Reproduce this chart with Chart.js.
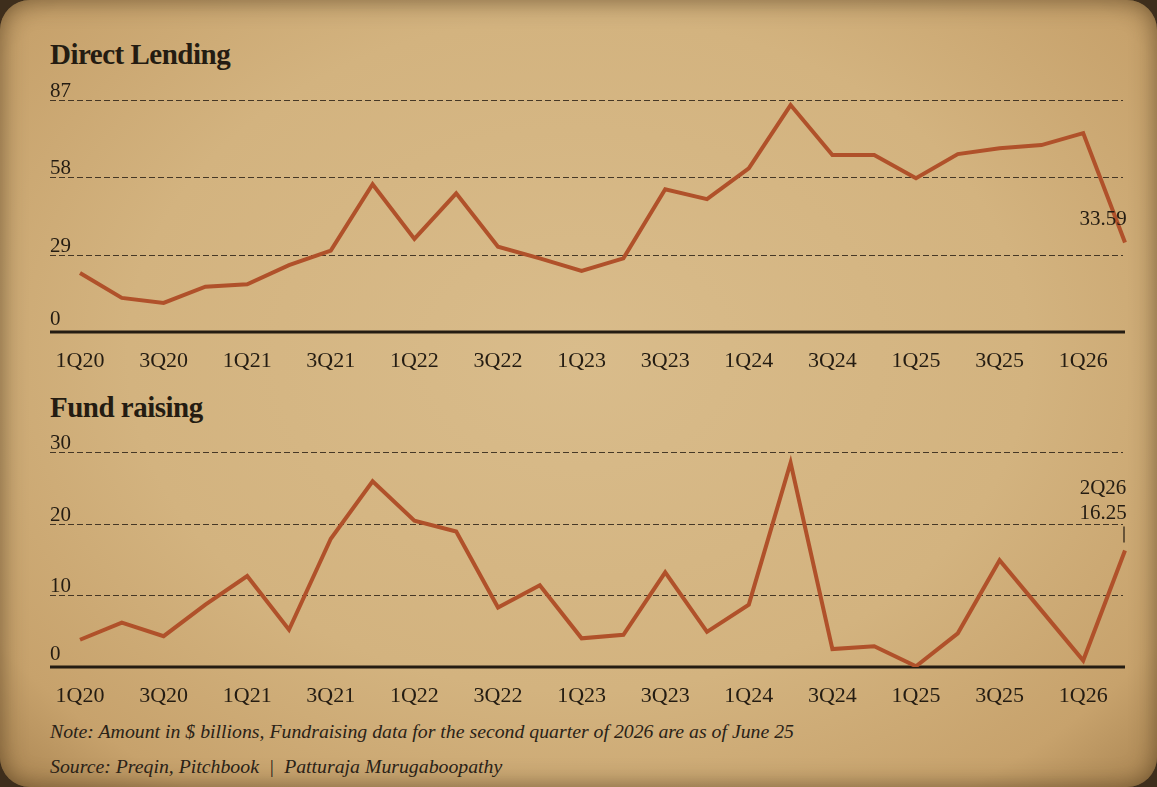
<!DOCTYPE html>
<html>
<head>
<meta charset="utf-8">
<script src="https://cdn.jsdelivr.net/npm/chart.js@4.4.1/dist/chart.umd.min.js"></script>
<style>
  html, body { margin: 0; padding: 0; }
  body { width: 1157px; height: 787px; background: #3e2e1c; overflow: hidden; position: relative; }
  .paper {
    position: absolute; left: 0; top: 0; width: 1157px; height: 787px;
    border-radius: 30px;
    background: radial-gradient(ellipse at 50% 45%, #d9bc8b 0%, #d3b37f 55%, #c7a26c 85%, #aa8552 100%);
    box-shadow: inset 0 0 24px rgba(60, 40, 15, 0.6);
  }
  .title { position: absolute; left: 50px; font-family: "Liberation Serif", serif; font-weight: bold; font-size: 29px; color: #241c12; letter-spacing: -0.5px; }
  .note { position: absolute; left: 50px; font-family: "Liberation Serif", serif; font-style: italic; font-size: 19.8px; color: #2a2217; }
  canvas { position: absolute; left: 0; }
</style>
</head>
<body>
<div class="paper"></div>
<div class="title" style="top:38px">Direct Lending</div>
<div class="title" style="top:391px">Fund raising</div>
<div style="position:absolute;left:0;top:0;width:1157px;height:380px"><canvas id="lending"></canvas></div>
<div style="position:absolute;left:0;top:380px;width:1157px;height:335px"><canvas id="fundraising"></canvas></div>
<div class="note" style="top:720px">Note: Amount in $ billions, Fundraising data for the second quarter of 2026 are as of June 25</div>
<div class="note" style="top:755px">Source: Preqin, Pitchbook &nbsp;|&nbsp; Patturaja Murugaboopathy</div>

<script>
// Quarterly data, 1Q20 to 2Q26
const quarters = ['1Q20','2Q20','3Q20','4Q20','1Q21','2Q21','3Q21','4Q21','1Q22','2Q22','3Q22','4Q22',
  '1Q23','2Q23','3Q23','4Q23','1Q24','2Q24','3Q24','4Q24','1Q25','2Q25','3Q25','4Q25','1Q26','2Q26'];

const lendingValues = [22.1, 12.8, 10.9, 17.0, 17.9, 25.1, 30.5, 55.4, 34.9, 52.0, 32.0, 27.6,
  22.9, 27.6, 53.5, 49.8, 61.4, 85.1, 66.4, 66.4, 57.7, 66.7, 68.9, 70.1, 74.6, 33.59];

const fundValues = [3.8, 6.2, 4.3, 8.7, 12.7, 5.2, 17.9, 25.9, 20.4, 18.9, 8.3, 11.4,
  4.0, 4.5, 13.2, 4.9, 8.7, 28.5, 2.5, 2.9, 0.1, 4.7, 14.9, 7.9, 0.9, 16.25];

const lendingTicks = [0, 29, 58, 87];
const fundTicks = [0, 10, 20, 30];

const INK = '#241c12';
const RUST = '#b0512a';
const SERIF = '"Liberation Serif", serif';

// draws the dashed grid, y labels, base line and the end label
const paperAxes = {
  id: 'paperAxes',
  beforeDatasetsDraw(chart, args, opts) {
    const ctx = chart.ctx;
    const y = chart.scales.y;
    const left = 50, right = 1123;
    ctx.save();
    opts.ticks.forEach(v => {
      const py = Math.round(y.getPixelForValue(v)) + 0.5;
      if (v !== 0) {
        ctx.strokeStyle = 'rgba(45,34,22,0.85)';
        ctx.lineWidth = 1;
        ctx.setLineDash([6, 3]);
        ctx.beginPath();
        ctx.moveTo(left, py);
        ctx.lineTo(right, py);
        ctx.stroke();
      }
      ctx.setLineDash([]);
      ctx.fillStyle = INK;
      ctx.font = '21px ' + SERIF;
      ctx.textAlign = 'left';
      ctx.textBaseline = 'alphabetic';
      ctx.fillText(String(v), left, py - (v === 0 ? 8 : 4));
    });
    const by = y.getPixelForValue(0);
    ctx.strokeStyle = INK;
    ctx.lineWidth = 3;
    ctx.beginPath();
    ctx.moveTo(left, by);
    ctx.lineTo(right + 2, by);
    ctx.stroke();
    ctx.restore();
  },
  afterDatasetsDraw(chart, args, opts) {
    const ctx = chart.ctx;
    const meta = chart.getDatasetMeta(0);
    const last = meta.data[meta.data.length - 1];
    const values = chart.data.datasets[0].data;
    const val = values[values.length - 1];
    ctx.save();
    ctx.fillStyle = INK;
    ctx.font = '21px ' + SERIF;
    ctx.textAlign = 'center';
    ctx.textBaseline = 'middle';
    if (opts.showQuarter) {
      ctx.fillText(quarters[quarters.length - 1], last.x - 22, last.y - 62);
      ctx.fillText(val.toFixed(2), last.x - 22, last.y - 37);
      ctx.strokeStyle = INK;
      ctx.lineWidth = 1.2;
      ctx.beginPath();
      ctx.moveTo(last.x - 1, last.y - 24);
      ctx.lineTo(last.x - 1, last.y - 8);
      ctx.stroke();
    } else {
      ctx.fillText(val.toFixed(2), last.x - 22, last.y - 23);
    }
    ctx.restore();
  }
};

function makeChart(id, values, ticks, maxY, padTop, showQuarter) {
  return new Chart(document.getElementById(id), {
    type: 'line',
    data: {
      labels: quarters,
      datasets: [{
        data: values,
        borderColor: RUST,
        borderWidth: 4,
        pointRadius: 0,
        tension: 0,
        fill: false
      }]
    },
    options: {
      responsive: true,
      maintainAspectRatio: false,
      animation: false,
      layout: { padding: { left: 80, right: 32, top: padTop, bottom: 0 } },
      plugins: {
        legend: { display: false },
        tooltip: { enabled: false },
        paperAxes: { ticks: ticks, showQuarter: showQuarter }
      },
      scales: {
        x: {
          offset: false,
          grid: { display: false },
          border: { display: false },
          afterFit(scale) { scale.height = 48; },
          ticks: {
            autoSkip: false,
            maxRotation: 0,
            padding: 8,
            color: INK,
            font: { family: SERIF, size: 22 },
            callback(v, i) { return i % 2 === 0 ? quarters[i] : ''; }
          }
        },
        y: { display: false, min: 0, max: maxY }
      }
    },
    plugins: [paperAxes]
  });
}

makeChart('lending', lendingValues, lendingTicks, 87, 100, false);
makeChart('fundraising', fundValues, fundTicks, 30, 72, true);
</script>
</body>
</html>
